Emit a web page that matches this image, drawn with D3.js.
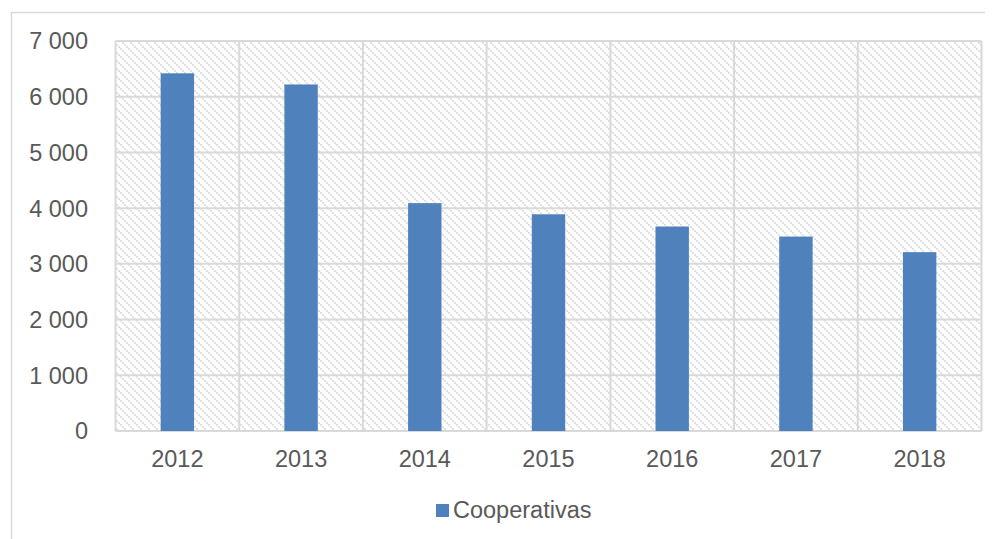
<!DOCTYPE html>
<html>
<head>
<meta charset="utf-8">
<script src="https://cdn.jsdelivr.net/npm/d3@7"></script>
<style>
  body { margin: 0; background: #fff; }
  svg { display: block; font-family: "Liberation Sans", Arial, sans-serif; }
</style>
</head>
<body>
<svg id="chart" width="995" height="539"></svg>
<script>
const years = ["2012", "2013", "2014", "2015", "2016", "2017", "2018"];
const cooperativas = [6420, 6220, 4090, 3890, 3670, 3490, 3210];
const yTicks = [0, 1000, 2000, 3000, 4000, 5000, 6000, 7000];
const seriesName = "Cooperativas";

const svg = d3.select("#chart");
const plot = {left: 115.5, right: 981.5, top: 41, bottom: 431};

// outer frame, only top and left are visible in the picture
svg.append("path")
  .attr("d", "M11.5,539 V12.5 H985")
  .attr("fill", "none")
  .attr("stroke", "#d9d9d9")
  .attr("stroke-width", 1.5);

// hatch fill for the plot area
const defs = svg.append("defs");
const pat = defs.append("pattern")
  .attr("id", "hatch")
  .attr("patternUnits", "userSpaceOnUse")
  .attr("width", 8)
  .attr("height", 8);
pat.append("path")
  .attr("d", "M-2,-2 L10,10 M-2,6 L2,10 M6,-2 L10,2")
  .attr("stroke", "#d6d6d6")
  .attr("stroke-width", 1.6)
  .attr("stroke-dasharray", "2,1");

const x = d3.scaleBand()
  .domain(years)
  .range([plot.left, plot.right])
  .paddingInner(0)
  .paddingOuter(0);

const y = d3.scaleLinear()
  .domain([0, 7000])
  .range([plot.bottom, plot.top]);

svg.append("rect")
  .attr("x", plot.left)
  .attr("y", plot.top)
  .attr("width", plot.right - plot.left)
  .attr("height", plot.bottom - plot.top)
  .attr("fill", "url(#hatch)");

// horizontal gridlines
svg.append("g")
  .selectAll("line")
  .data(yTicks)
  .join("line")
  .attr("x1", plot.left)
  .attr("x2", plot.right)
  .attr("y1", d => y(d))
  .attr("y2", d => y(d))
  .attr("stroke", "#d9d9d9")
  .attr("stroke-width", 2);

// vertical gridlines at category edges
const edges = years.map(d => x(d)).concat([plot.right]);
svg.append("g")
  .selectAll("line")
  .data(edges)
  .join("line")
  .attr("x1", d => d)
  .attr("x2", d => d)
  .attr("y1", plot.top)
  .attr("y2", plot.bottom)
  .attr("stroke", "#d9d9d9")
  .attr("stroke-width", 2);

// bars
const barW = x.bandwidth() * 0.27;
svg.append("g")
  .selectAll("rect")
  .data(cooperativas)
  .join("rect")
  .attr("x", (d, i) => x(years[i]) + x.bandwidth() / 2 - barW / 2)
  .attr("y", d => y(d))
  .attr("width", barW)
  .attr("height", d => y(0) - y(d))
  .attr("fill", "#4f81bd");

// y axis labels
const fmt = d => d3.format(",")(d).replace(/,/g, " ");
svg.append("g")
  .selectAll("text")
  .data(yTicks)
  .join("text")
  .attr("x", 88)
  .attr("y", d => y(d))
  .attr("dy", "0.36em")
  .attr("text-anchor", "end")
  .attr("fill", "#595959")
  .attr("font-size", 23.5)
  .text(fmt);

// x axis labels
svg.append("g")
  .selectAll("text")
  .data(years)
  .join("text")
  .attr("x", d => x(d) + x.bandwidth() / 2)
  .attr("y", 467)
  .attr("text-anchor", "middle")
  .attr("fill", "#595959")
  .attr("font-size", 23.5)
  .text(d => d);

// legend
const legend = svg.append("g");
legend.append("rect")
  .attr("x", 436)
  .attr("y", 504)
  .attr("width", 13)
  .attr("height", 13)
  .attr("fill", "#4f81bd");
legend.append("text")
  .attr("x", 453)
  .attr("y", 518)
  .attr("fill", "#595959")
  .attr("font-size", 23.5)
  .text(seriesName);
</script>
</body>
</html>
